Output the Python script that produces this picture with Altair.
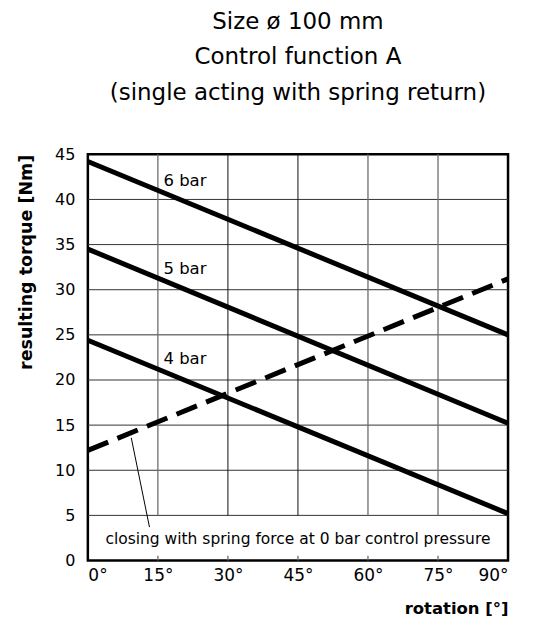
import altair as alt
import pandas as pd

rotation = [0, 90]
torque_6bar = [44.2, 25.0]
torque_5bar = [34.5, 15.2]
torque_4bar = [24.4, 5.2]
spring_force = [12.2, 31.2]

x_ticks = [0, 15, 30, 45, 60, 75, 90]
y_ticks = [0, 5, 10, 15, 20, 25, 30, 35, 40, 45]

bar_labels = ["6 bar", "5 bar", "4 bar"]
bar_label_x = [16.2, 16.2, 16.2]
bar_label_y = [41.5, 31.7, 21.8]

note_text = "closing with spring force at 0 bar control pressure"
note_x = [45]
note_y = [2.4]
pointer_x = [9.3, 13.2]
pointer_y = [13.6, 3.7]

FONT = "DejaVu Sans"

xs = alt.Scale(domain=[0, 90], nice=False, zero=False)
ys = alt.Scale(domain=[0, 45], nice=False, zero=False)

rows = []
for name, vals in [("6 bar", torque_6bar), ("5 bar", torque_5bar), ("4 bar", torque_4bar)]:
    for r, t in zip(rotation, vals):
        rows.append({"x": r, "y": t, "series": name})
df_lines = pd.DataFrame(rows)
df_spring = pd.DataFrame({"x": rotation, "y": spring_force})

inner_x = [v for v in x_ticks if 0 < v < 90]
df_hgrid = pd.DataFrame({"y": [v for v in y_ticks if 0 < v < 45]})
df_vgrid = pd.DataFrame({"x": inner_x, "y": [5] * len(inner_x), "y2": [45] * len(inner_x)})
df_vticks = pd.DataFrame({"x": inner_x, "y": [0] * len(inner_x), "y2": [0.55] * len(inner_x)})
df_labels = pd.DataFrame({"x": bar_label_x, "y": bar_label_y, "t": bar_labels})
df_note = pd.DataFrame({"x": note_x, "y": note_y, "t": [note_text]})
df_bg = pd.DataFrame({"x": [1], "x2": [89], "y": [0.55], "y2": [4.8]})
df_pointer = pd.DataFrame({"x": pointer_x, "y": pointer_y})

base_x = alt.X("x:Q", scale=xs)
base_y = alt.Y("y:Q", scale=ys)

x_axis = alt.Axis(values=x_ticks, labelExpr="datum.value + '°'", ticks=False, domain=False,
                  grid=False, labelFont=FONT, labelFontSize=17, labelColor="black",
                  labelPadding=7, title="rotation [°]", titleFont=FONT, titleFontSize=16.5,
                  titleFontWeight="bold", titleAnchor="end", titleColor="black",
                  titlePadding=17)
y_axis = alt.Axis(values=y_ticks, ticks=False, domain=False, grid=False,
                  labelFont=FONT, labelFontSize=16, labelColor="black", labelPadding=13,
                  title="resulting torque [Nm]", titleFont=FONT, titleFontSize=17.5,
                  titleFontWeight="bold", titleAnchor="end", titleColor="black",
                  titlePadding=19)

dark_cond = "datum.x == 30 || datum.x == 45"

hgrid = alt.Chart(df_hgrid).mark_rule(color="#333333", strokeWidth=1).encode(
    y=alt.Y("y:Q", scale=ys, axis=y_axis)
)
vgrid_gray = alt.Chart(df_vgrid).mark_rule(color="#6e6e6e", strokeWidth=1.3).encode(
    x=alt.X("x:Q", scale=xs, axis=x_axis), y=base_y, y2="y2:Q"
).transform_filter("!(" + dark_cond + ")")
vgrid_dark = alt.Chart(df_vgrid).mark_rule(color="#111111", strokeWidth=1).encode(
    x=base_x, y=base_y, y2="y2:Q"
).transform_filter(dark_cond)
vticks = alt.Chart(df_vticks).mark_rule(color="#6e6e6e", strokeWidth=1.3).encode(
    x=base_x, y=base_y, y2="y2:Q"
)
note_bg = alt.Chart(df_bg).mark_rect(color="white").encode(
    x=base_x, x2="x2:Q", y=base_y, y2="y2:Q"
)
note = alt.Chart(df_note).mark_text(font=FONT, fontSize=15.5, align="center", baseline="middle",
                                    color="black").encode(
    x=base_x, y=base_y, text="t:N"
)
pointer = alt.Chart(df_pointer).mark_line(color="black", strokeWidth=1).encode(
    x=base_x, y=base_y
)
lines = alt.Chart(df_lines).mark_line(color="black", strokeWidth=5, strokeCap="butt").encode(
    x=base_x, y=base_y, detail="series:N"
)
spring = alt.Chart(df_spring).mark_line(color="black", strokeWidth=5, strokeDash=[22, 10],
                                        strokeCap="butt").encode(
    x=base_x, y=base_y
)
labels = alt.Chart(df_labels).mark_text(font=FONT, fontSize=16.5, align="left", baseline="alphabetic",
                                        color="black").encode(
    x=base_x, y=base_y, text="t:N"
)

chart = alt.layer(hgrid, vgrid_gray, vgrid_dark, vticks, note_bg, note, pointer, lines, spring,
                  labels).properties(
    width=421,
    height=407,
    title=alt.TitleParams(
        text=["Size ø 100 mm", "Control function A", "(single acting with spring return)"],
        font=FONT, fontSize=23, fontWeight="normal", color="black", lineHeight=36,
        anchor="middle", offset=41,
    ),
    autosize=alt.AutoSizeParams(type="none"),
    padding={"left": 80, "top": 146, "right": 17, "bottom": 60},
).configure_view(stroke="black", strokeWidth=2.5)

chart.save("out.html", embed_options={"renderer": "svg", "actions": False})
